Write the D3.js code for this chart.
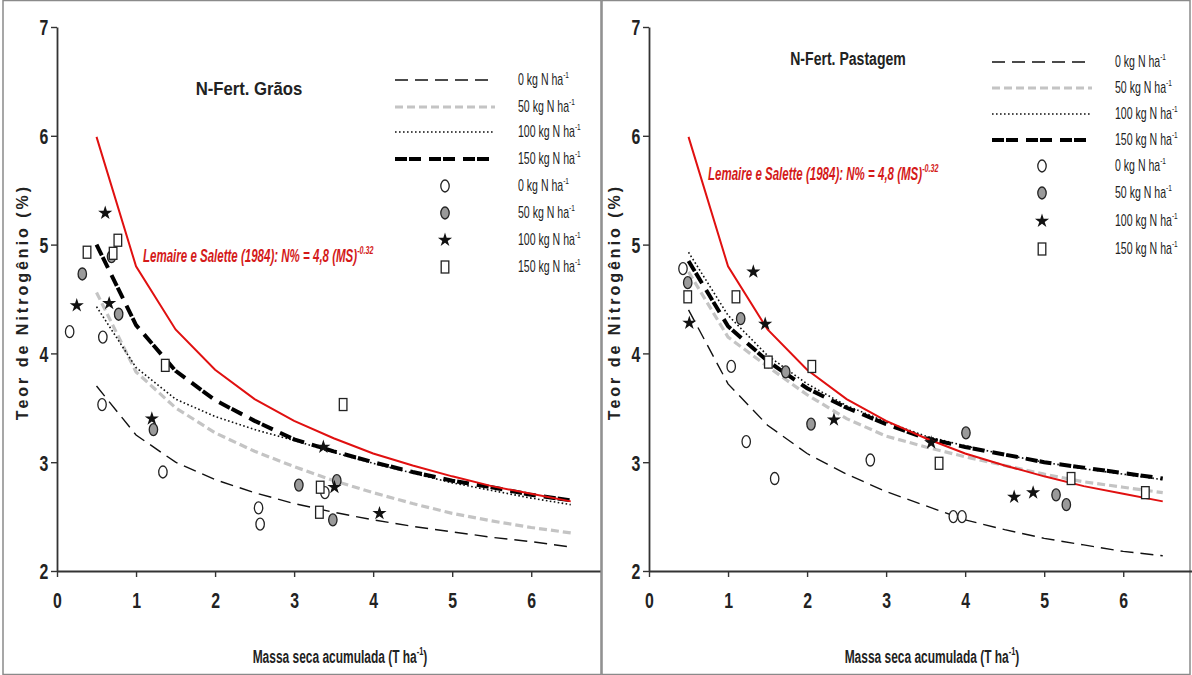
<!DOCTYPE html>
<html>
<head>
<script src="https://cdnjs.cloudflare.com/ajax/libs/d3/7.8.5/d3.min.js"></script>
<style>
  body { margin: 0; background: #fff; }
  text { font-family: "Liberation Sans", Arial, sans-serif; }
</style>
</head>
<body>
<div id="vis"></div>
<script>
// x positions where the fitted curves are drawn (T ha-1)
const steps = [0.5, 1, 1.5, 2, 2.5, 3, 3.5, 4, 4.5, 5, 5.5, 6, 6.5];

// Lemaire e Salette (1984) reference curve, read at each step
const lemaire = [5.99, 4.80, 4.22, 3.85, 3.58, 3.38, 3.22, 3.08, 2.97, 2.87, 2.78, 2.71, 2.64];

// N-Fert. Grãos fitted curves
const graos0   = [3.70, 3.25, 3.00, 2.84, 2.72, 2.62, 2.54, 2.47, 2.41, 2.36, 2.31, 2.27, 2.22];
const graos50  = [4.56, 3.83, 3.50, 3.27, 3.10, 2.96, 2.83, 2.72, 2.62, 2.53, 2.46, 2.40, 2.35];
const graos100 = [4.43, 3.87, 3.58, 3.42, 3.30, 3.20, 3.09, 2.99, 2.90, 2.81, 2.74, 2.67, 2.61];
const graos150 = [5.00, 4.26, 3.84, 3.57, 3.38, 3.21, 3.10, 3.00, 2.91, 2.83, 2.77, 2.70, 2.65];

// N-Fert. Pastagem fitted curves
const past0   = [4.40, 3.72, 3.34, 3.08, 2.89, 2.73, 2.60, 2.47, 2.38, 2.30, 2.24, 2.18, 2.14];
const past50  = [4.75, 4.15, 3.88, 3.62, 3.40, 3.24, 3.14, 3.05, 2.97, 2.89, 2.82, 2.77, 2.72];
const past100 = [4.93, 4.35, 3.98, 3.72, 3.52, 3.37, 3.24, 3.15, 3.07, 3.00, 2.94, 2.89, 2.84];
const past150 = [4.85, 4.25, 3.93, 3.68, 3.50, 3.35, 3.22, 3.14, 3.07, 3.00, 2.95, 2.90, 2.85];

// observed points [massa seca, N%]
const graosPts0   = [[0.16, 4.20], [0.58, 4.15], [0.57, 3.53], [1.34, 2.91], [2.55, 2.58], [2.57, 2.43], [3.39, 2.72]];
const graosPts50  = [[0.32, 4.73], [0.69, 4.89], [0.78, 4.36], [1.22, 3.30], [3.06, 2.79], [3.54, 2.83], [3.49, 2.47]];
const graosPts100 = [[0.61, 5.29], [0.25, 4.44], [0.66, 4.46], [1.20, 3.40], [3.37, 3.14], [3.51, 2.77], [4.08, 2.53]];
const graosPts150 = [[0.38, 4.93], [0.71, 4.92], [0.77, 5.04], [1.37, 3.89], [3.62, 3.53], [3.33, 2.77], [3.32, 2.54]];

const pastPts0   = [[0.43, 4.78], [1.04, 3.88], [1.23, 3.19], [1.59, 2.85], [2.80, 3.02], [3.85, 2.50], [3.96, 2.50]];
const pastPts50  = [[0.49, 4.65], [1.16, 4.32], [1.73, 3.83], [2.05, 3.35], [4.01, 3.27], [5.15, 2.70], [5.28, 2.61]];
const pastPts100 = [[0.51, 4.28], [1.32, 4.75], [1.47, 4.27], [2.34, 3.39], [3.57, 3.18], [4.62, 2.68], [4.86, 2.72]];
const pastPts150 = [[0.49, 4.52], [1.10, 4.52], [1.51, 3.92], [2.06, 3.88], [3.67, 2.99], [5.34, 2.85], [6.28, 2.72]];

const doses = ["0", "50", "100", "150"];
const xTicks = [0, 1, 2, 3, 4, 5, 6];
const yTicks = [2, 3, 4, 5, 6, 7];

const W = 1192, H = 675;
const svg = d3.select("#vis").append("svg").attr("width", W).attr("height", H);

// line styles for the four doses
const lineStyles = [
  { stroke: "#111", width: 1.4, dash: "13,7" },
  { stroke: "#c4c4c4", width: 3.2, dash: "8,4" },
  { stroke: "#111", width: 1.6, dash: "1.6,2.4" },
  { stroke: "#000", width: 4, dash: "12,2,12,8" }
];

function drawSymbol(g, kind, x, y) {
  if (kind === 0 || kind === 1) {
    g.append("ellipse").attr("cx", x).attr("cy", y).attr("rx", 4.2).attr("ry", 6)
      .attr("fill", kind === 0 ? "#fff" : "#9a9a9a")
      .attr("stroke", "#222").attr("stroke-width", 1.3);
  } else if (kind === 2) {
    g.append("path").attr("d", d3.symbol(d3.symbolStar, 62)())
      .attr("transform", `translate(${x},${y})`).attr("fill", "#111");
  } else {
    g.append("rect").attr("x", x - 3.8).attr("y", y - 6).attr("width", 7.6).attr("height", 12)
      .attr("fill", "#fff").attr("stroke", "#222").attr("stroke-width", 1.3);
  }
}

// condensed text: squeeze a normal font horizontally
function ntext(g, x, y, sx) {
  return g.append("text").attr("transform", `translate(${x},${y}) scale(${sx},1)`);
}

function supText(g, x, y, main, sup, opts) {
  const t = ntext(g, x, y, opts.sx)
    .attr("font-size", opts.size).attr("fill", opts.fill)
    .attr("font-weight", opts.weight || "normal")
    .attr("font-style", opts.style || "normal")
    .attr("text-anchor", opts.anchor || "start");
  t.append("tspan").text(main);
  t.append("tspan").attr("dy", -opts.size * 0.42).attr("font-size", opts.size * 0.62).text(sup);
  if (opts.tail) t.append("tspan").attr("dy", opts.size * 0.42).text(opts.tail);
  return t;
}

function drawPanel(p) {
  const g = svg.append("g");
  const x = d3.scaleLinear().domain([0, 6.87]).range([p.x0, p.x0 + 543]);
  const y = d3.scaleLinear().domain([2, 7]).range([571, 27]);

  // panel frame
  g.append("rect").attr("x", p.fx).attr("y", 0.5).attr("width", p.fw).attr("height", H - 1)
    .attr("fill", "none").attr("stroke", "#8a8a8a").attr("stroke-width", 1.5);

  // axes
  const xa = g.append("g").attr("transform", "translate(0,571)")
    .call(d3.axisBottom(x).tickValues(xTicks).tickFormat(d3.format("d"))
      .tickSize(6).tickSizeOuter(0).tickPadding(15));
  const ya = g.append("g").attr("transform", `translate(${p.x0},0)`)
    .call(d3.axisLeft(y).tickValues(yTicks).tickFormat(d3.format("d"))
      .tickSize(6).tickSizeOuter(0).tickPadding(6));
  [xa, ya].forEach(a => {
    a.select(".domain").attr("stroke", "#333").attr("stroke-width", 1.8);
    a.selectAll(".tick line").attr("stroke", "#333").attr("stroke-width", 1.4);
    a.selectAll(".tick text").attr("font-size", 22).attr("font-weight", "bold").attr("fill", "#222")
      .attr("transform", "scale(0.72,1)")
      .style("font-family", '"Liberation Sans", Arial, sans-serif');
  });
  ya.selectAll(".tick text").attr("dy", "0.36em");

  // axis titles
  g.append("text").attr("transform", `translate(${p.x0 - 29},302) rotate(-90)`)
    .attr("text-anchor", "middle").attr("font-size", 16).attr("font-weight", "bold")
    .attr("fill", "#222").attr("letter-spacing", 3)
    .text("Teor de Nitrogênio (%)");
  supText(g, p.x0 + 283, 663, "Massa seca acumulada  (T ha", "-1",
    { size: 19, sx: 0.63, fill: "#222", weight: "bold", anchor: "middle", tail: ")" });

  // title
  ntext(g, p.titleX, p.titleY, p.titleSx).attr("text-anchor", "middle")
    .attr("font-size", 19).attr("font-weight", "bold").attr("fill", "#222").text(p.title);

  // fitted curves
  const line = d3.line().x(d => x(d[0])).y(d => y(d[1]));
  p.lines.forEach((vals, i) => {
    const s = lineStyles[i];
    g.append("path").datum(steps.map((s, j) => [s, vals[j]]))
      .attr("d", line).attr("fill", "none").attr("stroke", s.stroke)
      .attr("stroke-width", s.width).attr("stroke-dasharray", s.dash);
  });
  g.append("path").datum(steps.map((s, j) => [s, lemaire[j]]))
    .attr("d", line).attr("fill", "none").attr("stroke", "#e01010").attr("stroke-width", 2);

  // observed points
  p.points.forEach((pts, i) => pts.forEach(d => drawSymbol(g, i, x(d[0]), y(d[1]))));

  // red annotation
  supText(g, p.redX, p.redY, "Lemaire e Salette (1984): N% = 4,8 (MS)", "-0.32",
    { size: 18, sx: 0.64, fill: "#d41a1a", weight: "bold", style: "italic" });

  // legend
  const lg = g.append("g");
  doses.forEach((d, i) => {
    const s = lineStyles[i];
    const ly = p.legY[i];
    lg.append("line").attr("x1", p.legX1).attr("x2", p.legX1 + 100).attr("y1", ly).attr("y2", ly)
      .attr("stroke", s.stroke).attr("stroke-width", s.width).attr("stroke-dasharray", s.dash);
    supText(lg, p.legT, ly + 5, d + " kg N ha", "-1", { size: 16, sx: 0.66, fill: "#222" });
  });
  doses.forEach((d, i) => {
    const ly = p.legY[i + 4];
    drawSymbol(lg, i, p.legX1 + 50, ly);
    supText(lg, p.legT, ly + 5, d + " kg N ha", "-1", { size: 16, sx: 0.66, fill: "#222" });
  });
}

drawPanel({
  x0: 57, fx: 3, fw: 598, title: "N-Fert. Grãos", titleX: 249, titleY: 95, titleSx: 0.88,
  lines: [graos0, graos50, graos100, graos150],
  points: [graosPts0, graosPts50, graosPts100, graosPts150],
  redX: 143, redY: 262,
  legX1: 395, legT: 518, legY: [80, 107, 132, 159, 186, 213, 240, 267]
});
drawPanel({
  x0: 649, fx: 602, fw: 588, title: "N-Fert. Pastagem", titleX: 848, titleY: 65, titleSx: 0.74,
  lines: [past0, past50, past100, past150],
  points: [pastPts0, pastPts50, pastPts100, pastPts150],
  redX: 708, redY: 180,
  legX1: 992, legT: 1115, legY: [62, 88, 114, 140, 166, 193, 221, 249]
});
</script>
</body>
</html>
